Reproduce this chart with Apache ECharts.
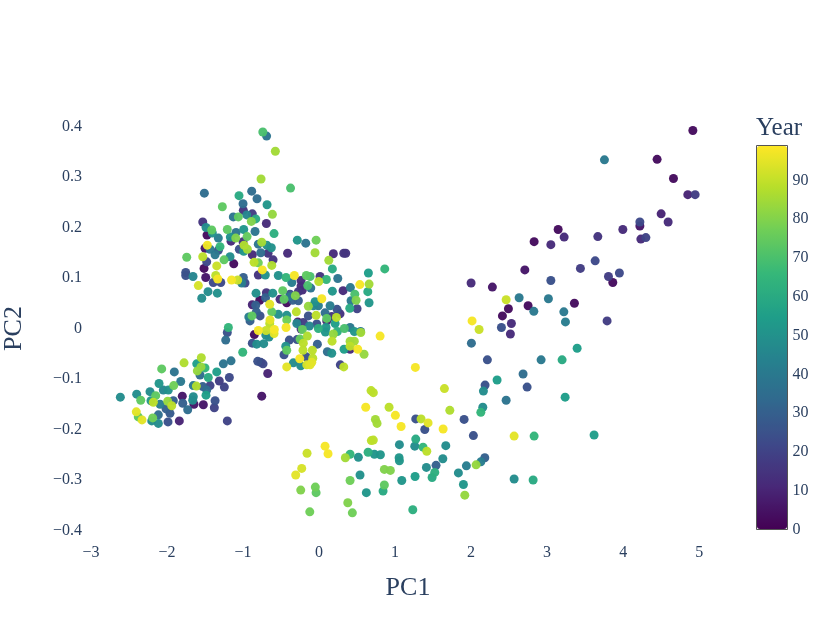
<!DOCTYPE html>
<html>
<head>
<meta charset="utf-8">
<style>
  html, body { margin: 0; padding: 0; background: #fff; }
  #main { width: 830px; height: 623px; }
</style>
<script src="https://cdn.jsdelivr.net/npm/echarts@6/dist/echarts.min.js"></script>
</head>
<body>
<div id="main"></div>
<script>
// values, same order in all three arrays
const pc1 = [
  -0.74,-0.69,-0.575,-0.763,-1.509,-1.053,-0.886,-0.816,-1.0,-0.684,
  -1.272,-0.375,-0.996,-0.878,-0.614,-1.128,-1.062,-0.951,-0.833,-0.891,
  -1.53,-0.693,-1.487,-1.412,-1.207,-0.991,-0.842,-0.592,-1.092,-1.404,
  -1.474,-1.167,-1.096,-0.947,-1.325,-1.158,-1.0,-0.799,-0.754,-0.688,
  -0.628,-1.47,-1.5,-1.303,-1.325,-1.434,-1.049,-0.987,-0.943,-0.991,
  -0.767,-0.671,-0.414,-0.878,-1.741,-1.53,-1.368,-1.171,-1.25,-1.478,
  -0.605,-1.122,-1.513,-1.346,-0.855,-0.799,-0.622,-0.746,-1.754,-1.754,
  -1.658,-1.491,-1.359,-1.333,-1.391,-1.293,-0.799,-0.707,-0.536,-0.434,
  -0.996,-1.151,-1.07,-1.017,-0.974,-1.588,-1.461,-1.338,-1.543,
  // centre
  -0.829,-0.693,-0.609,-0.478,-0.382,-0.704,-0.78,-0.878,-0.833,-0.513,
  -0.425,-0.461,-0.649,-0.622,-0.825,-0.536,-0.425,-0.924,-0.776,-0.882,
  -0.425,-0.645,-0.053,-0.175,-0.039,-0.286,0.188,0.325,0.351,0.128,
  0.175,-0.325,-0.359,-0.237,-0.167,-0.118,-0.149,-0.237,-0.22,-0.109,
  0.013,-0.004,0.096,0.246,0.649,0.864,0.536,0.658,0.641,0.412,
  0.316,0.175,0.47,0.487,0.421,0.658,0.404,0.5,-0.382,-0.272,
  -0.312,-0.346,-0.272,0.036,-0.053,-0.141,-0.075,-0.009,0.145,-0.299,
  -0.207,-0.293,-0.28,-0.141,-0.039,0.079,0.237,0.276,0.101,0.228,
  0.167,-0.03,0.101,0.211,-0.128,-0.434,-0.799,-0.697,-0.588,-0.592,
  -0.649,-0.851,-0.701,-0.658,-0.908,-0.237,-0.22,0.092,0.083,-0.009,
  0.241,0.333,0.408,0.464,0.546,0.549,0.188,-0.154,0.803,0.171,
  0.408,0.464,0.408,0.509,0.408,0.329,0.592,0.109,0.167,-0.022,
  -0.25,-0.207,-0.211,-0.088,-0.391,-0.289,-0.878,-0.82,-0.728,-0.438,
  -0.425,-0.461,-0.171,-0.083,-0.254,-0.096,-0.162,-0.118,-0.338,-0.241,
  -0.425,-1.004,0.28,0.325,1.267,-0.807,-0.767,-0.737,-1.158,-1.259,
  -0.675,-0.754,-1.193,-1.207,-1.228,
  // lower left
  -1.549,-1.776,-1.609,-1.5,-1.553,-1.601,-2.07,-1.904,-1.346,-1.566,
  -1.457,-1.82,-1.18,-1.312,-2.105,-1.912,-1.654,-1.434,-1.53,-1.614,
  -1.246,-2.049,-1.983,-2.224,-2.399,-2.149,-1.478,-1.487,-1.799,-1.654,
  -2.614,-2.346,-2.211,-2.18,-1.917,-1.991,-1.662,-1.793,-1.368,-1.522,
  -1.645,-2.092,-1.938,-1.378,-1.728,-2.013,-1.961,-2.404,-2.114,-2.378,
  -2.329,-2.188,-2.201,-2.114,-1.987,-1.838,-1.207,
  // lower centre
  0.684,0.714,1.649,2.214,2.184,2.162,0.614,0.921,1.004,1.72,
  2.154,2.128,1.908,0.741,0.763,1.079,1.272,1.342,1.434,1.391,
  1.632,2.03,0.688,0.714,1.057,1.272,1.259,1.368,1.417,1.667,
  0.079,0.118,-0.158,0.408,0.346,0.517,0.645,0.728,0.807,1.053,
  1.057,1.628,2.18,2.128,2.066,1.539,1.938,1.412,-0.228,-0.307,
  0.859,0.938,0.539,1.522,1.487,1.263,1.833,0.408,1.088,0.859,
  0.842,-0.049,-0.039,-0.241,0.622,1.899,1.917,0.378,0.438,-0.122,
  1.233,
  // right arm
  4.917,3.754,4.447,4.662,4.851,4.947,4.5,4.592,4.22,4.22,
  3.996,3.145,3.224,3.667,4.233,4.299,2.829,3.049,3.632,3.438,
  2.707,3.807,3.951,3.864,3.049,2.0,2.28,2.461,2.632,3.017,
  2.491,2.75,3.359,2.412,2.825,3.22,2.53,3.241,3.789,2.013,
  2.105,2.399,2.517,2.004,2.921,3.197,3.395,3.237,3.618,2.684,
  2.737,2.342,2.461,2.566,2.829,2.566,2.816
]
const pc2 = [
  0.389,0.381,0.351,0.296,0.268,0.263,0.272,0.257,0.247,0.245,
  0.241,0.278,0.234,0.227,0.226,0.221,0.221,0.225,0.217,0.212,
  0.211,0.208,0.2,0.195,0.196,0.196,0.192,0.188,0.19,0.189,
  0.185,0.181,0.179,0.182,0.179,0.173,0.172,0.167,0.171,0.165,
  0.16,0.165,0.159,0.162,0.155,0.157,0.157,0.165,0.157,0.153,
  0.15,0.149,0.149,0.146,0.141,0.142,0.146,0.142,0.136,0.132,
  0.136,0.128,0.119,0.124,0.131,0.13,0.125,0.116,0.111,0.105,
  0.103,0.101,0.105,0.098,0.091,0.091,0.106,0.106,0.105,0.101,
  0.101,0.096,0.096,0.09,0.09,0.085,0.073,0.07,0.06,
  // centre
  0.07,0.071,0.07,0.075,0.063,0.061,0.056,0.047,0.046,0.058,
  0.051,0.058,0.048,0.033,0.033,0.028,0.026,0.023,0.025,0.025,
  0.017,0.017,0.15,0.169,0.175,0.175,0.148,0.149,0.149,0.135,
  0.118,0.105,0.091,0.095,0.105,0.103,0.085,0.084,0.076,0.08,
  0.103,0.093,0.097,0.099,0.11,0.118,0.087,0.088,0.073,0.081,
  0.075,0.074,0.068,0.056,0.055,0.051,0.04,0.039,0.068,0.073,
  0.065,0.056,0.055,0.059,0.053,0.044,0.045,0.045,0.045,0.033,
  0.012,0.01,0.013,0.025,0.026,0.031,0.038,0.029,0.02,0.022,
  0.024,0.009,0.015,0.01,0.005,0.002,-0.004,-0.004,-0.002,-0.01,
  0.01,-0.012,-0.013,-0.017,0.015,-0.001,-0.002,0.002,-0.007,0.0,
  -0.006,0.0,0.002,-0.006,-0.006,-0.008,-0.011,-0.015,-0.015,-0.025,
  -0.025,-0.025,-0.035,-0.041,-0.041,-0.041,-0.051,-0.046,-0.049,-0.031,
  -0.021,-0.029,-0.043,-0.043,-0.023,-0.022,-0.029,-0.031,-0.03,-0.035,
  -0.043,-0.052,-0.056,-0.059,-0.06,-0.067,-0.072,-0.072,-0.068,-0.074,
  -0.076,-0.047,-0.072,-0.076,-0.077,-0.065,-0.067,-0.07,-0.064,-0.07,
  -0.089,-0.134,0.002,-0.008,-0.023,
  // lower left
  -0.058,-0.068,-0.07,-0.078,-0.076,-0.084,-0.08,-0.086,-0.086,-0.092,
  -0.097,-0.105,-0.097,-0.104,-0.109,-0.113,-0.113,-0.113,-0.115,-0.114,
  -0.116,-0.122,-0.122,-0.125,-0.13,-0.133,-0.122,-0.132,-0.134,-0.135,
  -0.136,-0.142,-0.143,-0.146,-0.143,-0.144,-0.142,-0.148,-0.143,-0.151,
  -0.15,-0.15,-0.153,-0.157,-0.161,-0.159,-0.168,-0.165,-0.171,-0.175,
  -0.181,-0.177,-0.183,-0.188,-0.185,-0.183,-0.183,
  // lower centre
  -0.123,-0.127,-0.119,-0.062,-0.112,-0.124,-0.156,-0.156,-0.172,-0.162,
  -0.156,-0.166,-0.18,-0.18,-0.188,-0.194,-0.179,-0.179,-0.187,-0.2,
  -0.199,-0.212,-0.222,-0.221,-0.23,-0.219,-0.233,-0.235,-0.243,-0.232,
  -0.233,-0.248,-0.247,-0.249,-0.256,-0.255,-0.245,-0.249,-0.25,-0.256,
  -0.262,-0.258,-0.256,-0.264,-0.27,-0.271,-0.272,-0.275,-0.277,-0.29,
  -0.279,-0.281,-0.29,-0.285,-0.295,-0.293,-0.286,-0.301,-0.301,-0.31,
  -0.322,-0.314,-0.325,-0.32,-0.325,-0.309,-0.33,-0.345,-0.365,-0.363,
  -0.359,
  // right arm
  0.392,0.334,0.335,0.297,0.265,0.265,0.227,0.211,0.211,0.203,
  0.196,0.196,0.181,0.182,0.177,0.18,0.172,0.166,0.134,0.119,
  0.116,0.103,0.11,0.091,0.095,0.09,0.082,0.057,0.061,0.059,
  0.039,0.045,0.05,0.025,0.034,0.033,0.01,0.013,0.015,0.015,
  -0.002,0.002,-0.011,-0.029,-0.062,-0.062,-0.039,-0.136,-0.211,-0.09,
  -0.116,-0.102,-0.142,-0.213,-0.213,-0.298,-0.3
]
const year = [
  70,38,85,85,35,60,35,35,35,52,
  74,70,15,18,83,38,74,45,60,80,
  15,12,48,74,74,52,38,62,38,50,
  3,50,80,75,42,12,15,38,85,50,
  50,97,6,65,25,40,25,87,85,52,
  35,15,12,12,74,89,40,48,74,22,
  15,3,3,91,89,77,87,98,25,25,
  45,6,89,98,22,22,15,50,50,65,
  30,98,91,42,22,93,48,50,48,
  // centre
  50,15,50,74,38,30,3,10,30,12,
  3,74,95,74,30,50,50,42,25,74,
  77,95,85,38,77,52,12,15,15,85,
  60,98,42,12,74,70,70,12,12,38,
  15,89,65,38,55,65,98,85,60,40,
  12,52,70,80,40,52,60,20,25,15,
  80,30,30,98,50,83,45,42,42,89,
  18,45,10,25,89,35,25,15,74,89,
  15,25,10,55,45,98,98,91,98,95,
  89,3,48,48,30,15,75,52,52,62,
  62,70,40,52,40,85,83,87,98,89,
  85,85,89,98,12,55,83,35,50,30,
  75,89,89,89,25,25,25,48,48,50,
  74,25,25,89,98,95,93,95,48,48,
  95,65,20,89,98,25,22,22,38,38,
  10,6,65,25,35,
  // lower left
  87,87,55,65,83,83,74,38,55,35,
  60,40,22,18,52,77,40,20,30,87,
  20,45,50,48,48,74,35,55,6,48,
  48,74,52,89,30,83,48,30,25,6,
  6,42,89,20,35,30,28,95,35,74,
  95,77,48,48,25,10,20,
  // lower centre
  89,89,91,25,25,48,98,89,98,87,
  48,65,25,85,85,98,25,89,95,25,
  98,25,89,89,48,60,48,65,89,48,
  98,98,91,65,85,50,62,52,52,52,
  52,48,30,42,83,30,42,48,93,95,
  80,80,50,62,60,55,48,77,52,74,
  60,77,74,80,52,52,83,80,77,77,
  62,
  // right arm
  3,40,3,3,10,18,10,12,22,6,
  12,3,12,15,12,20,3,12,22,18,
  6,18,22,3,25,12,6,91,40,40,
  3,3,3,3,40,40,12,42,18,98,
  91,25,12,35,40,60,55,55,55,35,
  25,55,38,95,65,48,60
]
const viridis = ['#440154', '#482878', '#3e4989', '#31688e', '#26828e', '#1f9e89', '#35b779', '#6ece58', '#b5de2b', '#fde725']

const fontName = 'Liberation Serif'
const inkColor = '#2a3f5f'
const minusSign = v => String(v).replace('-', '\u2212')

// lighter years mostly sit on top in the reference
const order = pc1.map((_, i) => i).sort((a, b) => year[a] - year[b])
const scatterData = order.map(i => [pc1[i], pc2[i], year[i]])

const myChart = echarts.init(document.getElementById('main'), null, { renderer: 'canvas' })
myChart.setOption({
  animation: false,
  backgroundColor: '#fff',
  title: {
    text: 'Year',
    left: 756,
    top: 116,
    padding: 0,
    textStyle: { fontFamily: fontName, fontSize: 25, fontWeight: 'normal', color: inkColor }
  },
  grid: [
    { left: 91, top: 126.5, width: 634, height: 404, outerBoundsMode: 'none' },
    // colour bar frame and its tick labels
    { left: 756.5, top: 145.5, width: 31, height: 384, outerBoundsMode: 'none', show: true, borderColor: '#555', borderWidth: 1, backgroundColor: 'transparent' }
  ],
  xAxis: [
    {
      type: 'value', min: -3, max: 5.34, interval: 1,
      name: 'PC1', nameLocation: 'middle', nameGap: 45,
      nameTextStyle: { fontFamily: fontName, fontSize: 26, color: inkColor },
      splitLine: { show: false }, axisLine: { show: false }, axisTick: { show: false },
      axisLabel: { fontFamily: fontName, fontSize: 16, color: inkColor, margin: 14, showMaxLabel: false, formatter: minusSign }
    },
    { type: 'value', gridIndex: 1, min: 0, max: 1, show: false }
  ],
  yAxis: [
    {
      type: 'value', min: -0.4, max: 0.4, interval: 0.1,
      name: 'PC2', nameLocation: 'middle', nameGap: 64,
      nameTextStyle: { fontFamily: fontName, fontSize: 26, color: inkColor },
      splitLine: { show: false }, axisLine: { show: false }, axisTick: { show: false },
      axisLabel: { fontFamily: fontName, fontSize: 16, color: inkColor, margin: 9, formatter: minusSign }
    },
    {
      type: 'value', gridIndex: 1, min: 0, max: 99, interval: 10, position: 'right',
      splitLine: { show: false }, axisLine: { show: false }, axisTick: { show: false },
      axisLabel: { fontFamily: fontName, fontSize: 16, color: inkColor, margin: 5, padding: [2, 0, 0, 0], showMaxLabel: false }
    }
  ],
  visualMap: {
    type: 'continuous',
    seriesIndex: 0,
    dimension: 2,
    min: 0,
    max: 99,
    left: 757,
    top: 146,
    padding: 0,
    itemWidth: 30,
    itemHeight: 383,
    calculable: false,
    text: null,
    showLabel: false,
    inRange: { color: viridis }
  },
  series: [
    {
      type: 'scatter',
      xAxisIndex: 0,
      yAxisIndex: 0,
      symbolSize: 9,
      itemStyle: { opacity: 0.97 },
      data: scatterData
    }
  ]
})
</script>
</body>
</html>
